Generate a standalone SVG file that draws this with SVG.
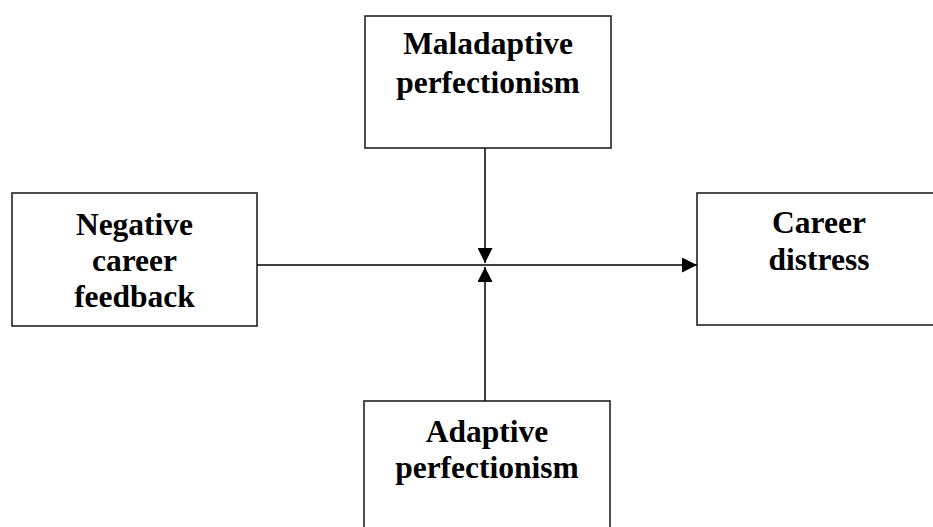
<svg xmlns="http://www.w3.org/2000/svg" width="933" height="527" viewBox="0 0 933 527">
<style>
.box{fill:#fff;stroke:#222;stroke-width:1.6}
.lbl{font-family:"Liberation Serif","Times New Roman",serif;font-weight:bold;font-size:31.5px;fill:#000;text-anchor:middle}
.con{stroke:#000;stroke-width:1.5;fill:none}
</style>
<defs>
<marker id="ah" markerWidth="15" markerHeight="15" refX="15" refY="7.5" orient="auto" markerUnits="userSpaceOnUse">
<path d="M0,0 L15,7.5 L0,15 Z" fill="#000"/>
</marker>
</defs>
<rect width="933" height="527" fill="#fff"/>
<g id="maladaptive">
<rect class="box" x="365" y="16" width="246" height="132"/>
<text class="lbl" x="488" y="54">Maladaptive</text>
<text class="lbl" x="488" y="93">perfectionism</text>
</g>
<g id="negative">
<rect class="box" x="12" y="193" width="245" height="133"/>
<text class="lbl" x="134.5" y="235">Negative</text>
<text class="lbl" x="134.5" y="271">career</text>
<text class="lbl" x="134.5" y="307">feedback</text>
</g>
<g id="distress">
<rect class="box" x="697" y="193" width="244" height="132"/>
<text class="lbl" x="819" y="233">Career</text>
<text class="lbl" x="819" y="270">distress</text>
</g>
<g id="adaptive">
<rect class="box" x="364" y="401" width="246" height="140"/>
<text class="lbl" x="487" y="442">Adaptive</text>
<text class="lbl" x="487" y="478">perfectionism</text>
</g>
<g id="connectors">
<line class="con" x1="257" y1="265" x2="697" y2="265" marker-end="url(#ah)"/>
<line class="con" x1="485" y1="148" x2="485" y2="263" marker-end="url(#ah)"/>
<line class="con" x1="485" y1="401" x2="485" y2="267" marker-end="url(#ah)"/>
</g>
</svg>
